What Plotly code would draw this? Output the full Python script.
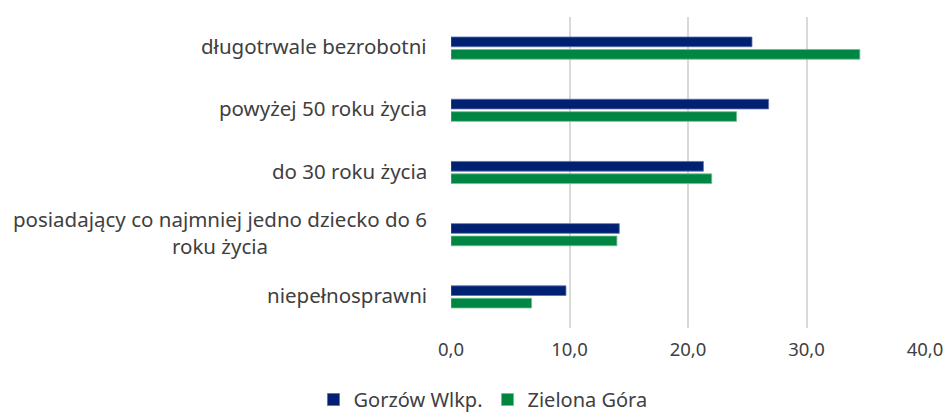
import plotly.graph_objects as go

categories = ["długotrwale bezrobotni", "powyżej 50 roku życia", "do 30 roku życia",
              "posiadający co najmniej jedno dziecko do 6<br>roku życia", "niepełnosprawni"]
gorzow = [25.4, 26.8, 21.3, 14.2, 9.7]
zielona = [34.5, 24.1, 22.0, 14.0, 6.8]
tick_vals = [0, 10, 20, 30, 40]
tick_text = ["0,0", "10,0", "20,0", "30,0", "40,0"]

FONT = "Noto Sans"
TXT = "#404040"

fig = go.Figure()
fig.add_trace(go.Bar(y=categories, x=gorzow, orientation="h", name="Gorzów Wlkp.",
                     marker=dict(color="#002072", line=dict(color="#5a6fb0", width=0.8))))
fig.add_trace(go.Bar(y=categories, x=zielona, orientation="h", name="Zielona Góra",
                     marker=dict(color="#008542", line=dict(color="#6fbf8f", width=0.8))))

for c in categories:
    fig.add_annotation(x=0, xref="paper", y=c, yref="y", text=c, showarrow=False,
                       xanchor="right", xshift=-22, yshift=2, align="center",
                       font=dict(family=FONT, size=20.5, color=TXT))

fig.update_layout(
    width=947, height=414,
    margin=dict(l=451, r=22, t=17, b=86, autoexpand=False),
    paper_bgcolor="white", plot_bgcolor="white",
    barmode="group", bargap=0.6, bargroupgap=0.22,
    font=dict(family=FONT, size=18, color=TXT),
    legend=dict(orientation="h", xref="container", yref="container",
                x=0.51, xanchor="center", y=0.035, yanchor="middle",
                font=dict(family=FONT, size=20, color=TXT),
                traceorder="normal"),
    showlegend=True,
)
fig.update_xaxes(range=[0, 40], tickvals=tick_vals, ticktext=tick_text,
                 showgrid=True, gridcolor="#d9d9d9", gridwidth=2, zeroline=False,
                 showline=False, ticks="", tickfont=dict(size=18.5, color=TXT),
                 ticklabelstandoff=8)
fig.update_yaxes(autorange="reversed", showticklabels=False, ticks="", showgrid=False,
                 showline=False, zeroline=False)

fig.write_html("out.html", config={"displayModeBar": False},
               post_script="document.body.style.margin='0';document.body.style.overflow='hidden';")
